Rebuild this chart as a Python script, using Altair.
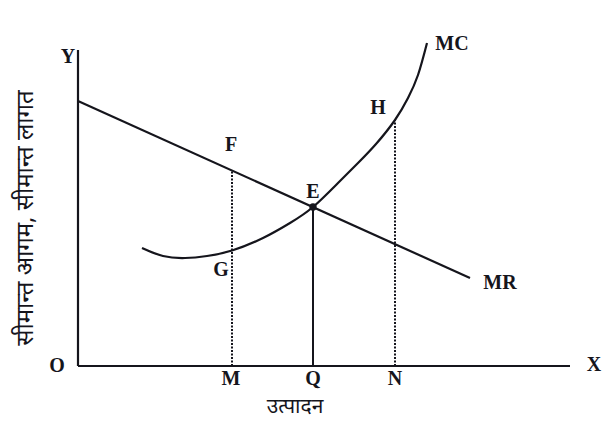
import altair as alt
import pandas as pd

# MC curve (units: output vs. revenue/cost)
mc_x = [6.4, 8.5, 10.7, 12.9, 15.4, 18.5, 21.2, 23.5, 26.0, 28.0, 29.8, 31.7, 33.0, 34.0, 34.9]
mc_y = [11.8, 11.0, 10.8, 11.0, 11.55, 12.8, 14.3, 15.9, 18.3, 20.3, 22.2, 24.6, 26.8, 29.1, 32.3]
# MR straight line
mr_x = [0.0, 39.2]
mr_y = [26.5, 8.8]
# Axes extents
x_axis_end = 49.2
y_axis_end = 31.6
# Verticals: M (F/G), Q (E), N (H)
vert_names = ["M", "Q", "N"]
vert_x = [15.4, 23.5, 31.7]
vert_top = [19.55, 15.9, 24.6]
vert_dashed = [True, False, True]
# Equilibrium point
e_x, e_y = 23.5, 15.9
# Labels
lab_text = ["Y", "O", "X", "M", "Q", "N", "F", "G", "E", "H", "MC", "MR"]
lab_x = [-1.0, -2.1, 51.6, 15.3, 23.5, 31.7, 15.3, 14.3, 23.5, 30.0, 37.4, 42.2]
lab_y = [30.9, 0.0, 0.1, -1.3, -1.3, -1.3, 22.1, 9.6, 17.4, 25.8, 32.2, 8.3]
x_title = "उत्पादन"
y_title = "सीमान्त आगम, सीमान्त लागत"

xs = alt.Scale(domain=[-7, 52.4], nice=False, zero=False)
ys = alt.Scale(domain=[-5.3, 35.8], nice=False, zero=False)
ink = "#15151c"

def X(f="x"):
    return alt.X(f"{f}:Q", scale=xs, axis=None)

def Y(f="y"):
    return alt.Y(f"{f}:Q", scale=ys, axis=None)

axes_df = pd.DataFrame({"x": [0, 0], "y": [0, 0], "x2": [x_axis_end, 0], "y2": [0, y_axis_end]})
axes = alt.Chart(axes_df).mark_rule(color=ink, strokeWidth=2.2).encode(
    x=X(), y=Y(), x2="x2:Q", y2="y2:Q")

mc = alt.Chart(pd.DataFrame({"x": mc_x, "y": mc_y})).mark_line(
    color=ink, strokeWidth=2.2, interpolate="natural").encode(x=X(), y=Y())
mr = alt.Chart(pd.DataFrame({"x": mr_x, "y": mr_y})).mark_line(
    color=ink, strokeWidth=2.2).encode(x=X(), y=Y())

vdf = pd.DataFrame({"name": vert_names, "x": vert_x, "y": [0] * 3, "y2": vert_top, "dashed": vert_dashed})
vdash = alt.Chart(vdf[vdf.dashed]).mark_rule(color=ink, strokeWidth=2, strokeDash=[2, 1.5]).encode(
    x=X(), y=Y(), y2="y2:Q")
vsolid = alt.Chart(vdf[~vdf.dashed]).mark_rule(color=ink, strokeWidth=2).encode(
    x=X(), y=Y(), y2="y2:Q")

edot = alt.Chart(pd.DataFrame({"x": [e_x], "y": [e_y]})).mark_circle(
    color=ink, size=55, opacity=1).encode(x=X(), y=Y())

labels = alt.Chart(pd.DataFrame({"t": lab_text, "x": lab_x, "y": lab_y})).mark_text(
    font="Liberation Serif", fontSize=20, fontWeight="bold", color=ink,
    align="center", baseline="middle").encode(x=X(), y=Y(), text="t:N")

xt = alt.Chart(pd.DataFrame({"t": [x_title], "x": [21.7], "y": [-4.05]})).mark_text(
    font="Noto Sans", fontSize=21, color=ink, align="center", baseline="middle").encode(
    x=X(), y=Y(), text="t:N")
yt = alt.Chart(pd.DataFrame({"t": [y_title], "x": [-5.2], "y": [14.8]})).mark_text(
    font="Noto Sans", fontSize=24, color=ink, align="center", baseline="middle", angle=270).encode(
    x=X(), y=Y(), text="t:N")

chart = alt.layer(axes, mr, mc, vdash, vsolid, edot, labels, xt, yt).properties(
    width=594, height=411, padding=0,
    autosize=alt.AutoSizeParams(type="none"),
    background="white",
).configure_view(stroke=None)

chart.save("out.html", embed_options={"renderer": "svg", "actions": False})
